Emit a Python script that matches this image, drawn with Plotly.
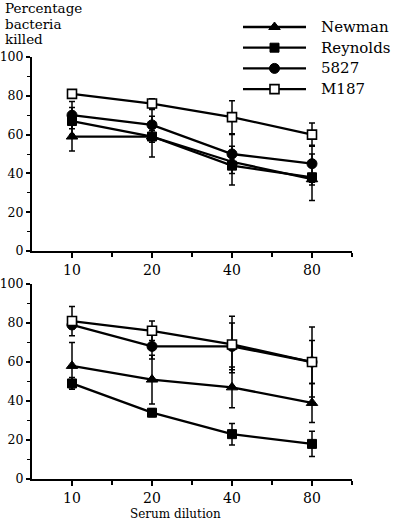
import plotly.graph_objects as go

# ---- data ----
dilutions = ["10", "20", "40", "80"]
series_names = ["Newman", "Reynolds", "5827", "M187"]

newman_top = [59, 59, 46, 37]
newman_top_err = [7.5, 10.5, 3, 3]
reynolds_top = [67, 59, 44, 38]
reynolds_top_err = [7, 3, 10, 12]
s5827_top = [70, 65, 50, 45]
s5827_top_err = [7, 8, 10, 9.5]
m187_top = [81, 76, 69, 60]
m187_top_err = [2, 2.5, 8.5, 6]

newman_bot = [58, 51, 47, 39]
newman_bot_err = [12, 12.5, 10.5, 10]
reynolds_bot = [49, 34, 23, 18]
reynolds_bot_err = [3, 2, 5.5, 6.5]
s5827_bot = [79, 68, 68, 60]
s5827_bot_err = [2, 6.5, 12, 11]
m187_bot = [81, 76, 69, 60]
m187_bot_err = [7.5, 5, 14.5, 18]

y_ticks = [0, 20, 40, 60, 80, 100]

FONT = "DejaVu Serif"
x_pos = list(range(len(dilutions)))

styles = {
    "Newman": dict(symbol="triangle-up", size=10, color="black", line=dict(color="black", width=1)),
    "Reynolds": dict(symbol="square", size=9, color="black", line=dict(color="black", width=1)),
    "5827": dict(symbol="circle", size=10, color="black", line=dict(color="black", width=1)),
    "M187": dict(symbol="square", size=9, color="white", line=dict(color="black", width=1.6)),
}

fig = go.Figure()

panels = [
    ("x", "y", [newman_top, reynolds_top, s5827_top, m187_top],
     [newman_top_err, reynolds_top_err, s5827_top_err, m187_top_err]),
    ("x2", "y2", [newman_bot, reynolds_bot, s5827_bot, m187_bot],
     [newman_bot_err, reynolds_bot_err, s5827_bot_err, m187_bot_err]),
]

for xa, ya, vals, errs in panels:
    for name, v, e in zip(series_names, vals, errs):
        fig.add_trace(go.Scatter(
            x=x_pos, y=v, mode="lines+markers", name=name, showlegend=False,
            xaxis=xa, yaxis=ya,
            line=dict(color="black", width=2.3),
            marker=styles[name],
            error_y=dict(type="data", array=e, visible=True, color="black",
                         thickness=1.5, width=3),
            cliponaxis=False,
        ))

# custom legend drawn on an auxiliary axis
for i, name in enumerate(series_names):
    fig.add_trace(go.Scatter(
        x=[0, 1], y=[i, i], mode="lines", showlegend=False,
        xaxis="x3", yaxis="y3", line=dict(color="black", width=2.3),
        hoverinfo="skip", cliponaxis=False,
    ))
    fig.add_trace(go.Scatter(
        x=[0.5], y=[i], mode="markers", showlegend=False,
        xaxis="x3", yaxis="y3", marker=styles[name],
        hoverinfo="skip", cliponaxis=False,
    ))
    fig.add_annotation(x=1, y=i, xref="x3", yref="y3", text=name,
                       showarrow=False, xanchor="left", yanchor="middle",
                       xshift=13, font=dict(family=FONT, size=15, color="black"))

M_T, M_B, M_L, M_R = 10, 41, 32, 48
H = 520
plot_h = H - M_T - M_B


def fy(px):
    return (H - M_B - px) / plot_h


def fx(px):
    return (px - M_L) / (400 - M_L - M_R)


xcommon = dict(
    range=[-0.5, 3.5], tickmode="array", tickvals=x_pos, ticktext=dilutions,
    showline=True, linecolor="black", linewidth=2.3, ticks="outside",
    ticklen=5, tickwidth=1.5, tickcolor="black", showgrid=False, zeroline=False,
    automargin=False,
    tickfont=dict(family=FONT, size=14, color="black"),
    minor=dict(tickvals=[0.5, 1.5, 2.5, 3.5], ticks="outside", ticklen=4,
               tickwidth=1.5, tickcolor="black", showgrid=False),
)
ycommon = dict(
    range=[0, 100], tickmode="array", tickvals=y_ticks,
    showline=True, linecolor="black", linewidth=2, ticks="outside",
    ticklen=4, tickwidth=1.5, tickcolor="black", showgrid=False, zeroline=False,
    automargin=False,
    tickfont=dict(family=FONT, size=12.5, color="black"),
    minor=dict(dtick=10, tick0=0, ticks="outside", ticklen=3, tickwidth=1.2,
               tickcolor="black", showgrid=False),
)

fig.update_layout(
    template="none",
    width=400, height=520,
    margin=dict(l=M_L, r=M_R, t=M_T, b=M_B, autoexpand=False),
    paper_bgcolor="white", plot_bgcolor="white",
    showlegend=False,
    font=dict(family=FONT, color="black"),
    xaxis=dict(anchor="y", domain=[0, 1], **xcommon),
    yaxis=dict(anchor="x", domain=[fy(251), fy(57)], **ycommon),
    xaxis2=dict(anchor="y2", domain=[0, 1], **xcommon),
    yaxis2=dict(anchor="x2", domain=[0, fy(284)], **ycommon),
    xaxis3=dict(anchor="y3", domain=[fx(243), fx(306)], range=[0, 1], visible=False),
    yaxis3=dict(anchor="x3", domain=[fy(100), fy(15)],
                range=[(100 - 27) / 20.7, (15 - 27) / 20.7], visible=False),
)

for txt, ypx in [("Percentage", 8), ("bacteria", 24), ("killed", 39)]:
    fig.add_annotation(x=fx(3), y=fy(ypx), xref="paper", yref="paper",
                       xanchor="left", yanchor="middle", showarrow=False,
                       text=txt, font=dict(family=FONT, size=13.5, color="black"))

fig.add_annotation(x=fx(175), y=fy(514), xref="paper", yref="paper",
                   xanchor="center", yanchor="middle", showarrow=False,
                   text="Serum dilution", font=dict(family=FONT, size=12, color="black"))

fig.write_html("out.html", config={"displayModeBar": False},
               post_script="document.body.style.margin='0';")
